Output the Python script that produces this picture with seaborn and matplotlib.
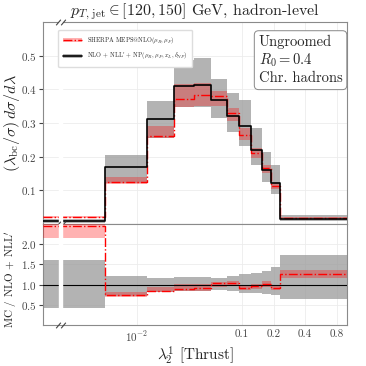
import numpy as np
import seaborn as sns
import matplotlib.pyplot as plt
from matplotlib.lines import Line2D
from matplotlib.patches import Patch
from matplotlib.ticker import FixedLocator, FixedFormatter, LogLocator, NullFormatter

# bin edges (first bin is the "broken" underflow bin shown at the far left)
edges = [0.00128, 0.005, 0.0124, 0.0225, 0.035, 0.0507, 0.0715, 0.094, 0.122, 0.155, 0.189, 0.232, 1.0]

# NLO + NLL' + NP
nll = [0.0086, 0.169, 0.312, 0.411, 0.414, 0.368, 0.320, 0.290, 0.221, 0.161, 0.122, 0.015]
nll_lo = [0.0037, 0.122, 0.256, 0.348, 0.348, 0.316, 0.272, 0.232, 0.175, 0.125, 0.090, 0.0096]
nll_hi = [0.0138, 0.206, 0.366, 0.487, 0.493, 0.431, 0.390, 0.368, 0.285, 0.215, 0.175, 0.026]

# SHERPA MEPS@NLO
mc = [0.021, 0.124, 0.260, 0.371, 0.382, 0.379, 0.330, 0.265, 0.211, 0.165, 0.112, 0.019]
mc_lo = [0.0185, 0.118, 0.255, 0.348, 0.350, 0.350, 0.305, 0.250, 0.195, 0.150, 0.105, 0.0175]
mc_hi = [0.0235, 0.140, 0.290, 0.417, 0.418, 0.395, 0.345, 0.285, 0.225, 0.175, 0.122, 0.0205]

xtick_pos = [0.01, 0.1, 0.2, 0.4, 0.8]
xtick_labels = ['$10^{-2}$', '0.1', '0.2', '0.4', '0.8']
break_x = 0.00188

sns.set_style("whitegrid", {"grid.color": "#ececec", "axes.edgecolor": "#8a8a8a"})
plt.rcParams['font.family'] = ['cmr10', 'DejaVu Serif']
plt.rcParams['mathtext.fontset'] = 'cm'
plt.rcParams['axes.formatter.use_mathtext'] = True

edges = np.array(edges)
nll, nll_lo, nll_hi = np.array(nll), np.array(nll_lo), np.array(nll_hi)
mc, mc_lo, mc_hi = np.array(mc), np.array(mc_lo), np.array(mc_hi)


def ext(v):
    return np.append(v, v[-1])


fig = plt.figure(figsize=(3.66, 3.66), dpi=100)
ax = fig.add_axes([0.1175, 0.388, 0.8306, 0.552])
rx = fig.add_axes([0.1175, 0.112, 0.8306, 0.276], sharex=ax)

grey = dict(color='#9a9a9a', alpha=0.75, lw=0)
pink = dict(color='red', alpha=0.3, lw=0)

# top panel
ax.fill_between(edges, ext(nll_lo), ext(nll_hi), step='post', zorder=2, **grey)
ax.fill_between(edges, ext(mc_lo), ext(mc_hi), step='post', zorder=3, **pink)
sns.lineplot(x=edges, y=ext(mc), drawstyle='steps-post', color='red', lw=1.0,
             linestyle='-.', estimator=None, ax=ax, zorder=4)
sns.lineplot(x=edges, y=ext(nll), drawstyle='steps-post', color='black', lw=1.2,
             estimator=None, ax=ax, zorder=5)

# ratio panel
rx.fill_between(edges, ext(nll_lo / nll), ext(nll_hi / nll), step='post', zorder=2, **grey)
rx.fill_between(edges, ext(mc_lo / nll), ext(mc_hi / nll), step='post', zorder=3, **pink)
rx.axhline(1.0, color='black', lw=0.8, zorder=4)
sns.lineplot(x=edges, y=ext(mc / nll), drawstyle='steps-post', color='red', lw=1.0,
             linestyle='-.', estimator=None, ax=rx, zorder=5)

for a in (ax, rx):
    a.set_xscale('log')
    a.set_xlim(edges[0], edges[-1])
    a.grid(True, which='major', lw=0.6)
    a.tick_params(axis='x', which='both', direction='in', top=False, colors='#444444',
                  labelsize=8, pad=3)
    a.tick_params(axis='x', which='major', length=4)
    a.tick_params(axis='x', which='minor', length=2)
    a.tick_params(axis='y', direction='out', length=3, colors='#444444', labelsize=8,
                  left=True, pad=1.5)
    a.xaxis.set_minor_locator(LogLocator(base=10, subs=np.arange(2, 10)))
    a.xaxis.set_minor_formatter(NullFormatter())
    # white gap for the axis break
    a.axvspan(break_x * 0.965, break_x * 1.035, color='white', zorder=6)

ax.xaxis.set_major_locator(FixedLocator(xtick_pos))
ax.tick_params(axis='x', labelbottom=False)
rx.xaxis.set_major_formatter(FixedFormatter(xtick_labels))

ax.set_ylim(0, 0.6)
ax.set_yticks([0.1, 0.2, 0.3, 0.4, 0.5])
rx.set_ylim(0, 2.5)
rx.set_yticks([0.5, 1.0, 1.5, 2.0])

# axis break marks
kw = dict(marker=[(-1, -1.2), (1, 1.2)], markersize=4, linestyle='none', color='#444444',
          mec='#444444', mew=0.8, clip_on=False, zorder=10)
for a, ys in ((ax, (0, 1)), (rx, (0,))):
    for yy in ys:
        a.plot([break_x * 0.955, break_x * 1.045], [yy, yy], transform=a.get_xaxis_transform(), **kw)

ax.set_title(r'$p_{T,\,\mathrm{jet}} \in [120, 150]$ GeV, hadron-level', fontsize=11.5, pad=5)
ax.set_ylabel(r'$(\lambda_{\mathrm{bc}}/\sigma)\,d\sigma/d\lambda$', fontsize=11.5)
ax.yaxis.set_label_coords(-0.07, 0.5)
rx.set_ylabel("MC / NLO + NLL$'$", fontsize=8)
rx.yaxis.set_label_coords(-0.076, 0.45)
rx.set_xlabel(r'$\lambda_2^1$ [Thrust]', fontsize=11, labelpad=0)

handles = [(Patch(color='red', alpha=0.3, lw=0), Line2D([], [], color='red', ls='-.', lw=1.0)),
           (Patch(color='#9a9a9a', alpha=0.75, lw=0), Line2D([], [], color='black', lw=1.2))]
labels = [r'SHERPA MEPS@NLO$(\mu_R,\mu_F)$',
          r"NLO + NLL$'$ + NP$(\mu_R,\mu_F,x_L,\delta_{NP})$"]
leg = ax.legend(handles, labels, loc='upper left', bbox_to_anchor=(0.04, 0.975), fontsize=4.5,
                frameon=True, fancybox=True, framealpha=1, edgecolor='#dddddd',
                handlelength=3, borderpad=0.8, labelspacing=0.8)
leg.set_zorder(20)

ax.text(0.985, 0.935, 'Ungroomed\n$R_0 = 0.4$\nChr. hadrons', transform=ax.transAxes,
        ha='right', va='top', multialignment='left', fontsize=10.5, linespacing=1.2, zorder=20,
        bbox=dict(boxstyle='round,pad=0.3', fc='white', ec='#888888', lw=0.7))

fig.savefig('out.png', dpi=100)
